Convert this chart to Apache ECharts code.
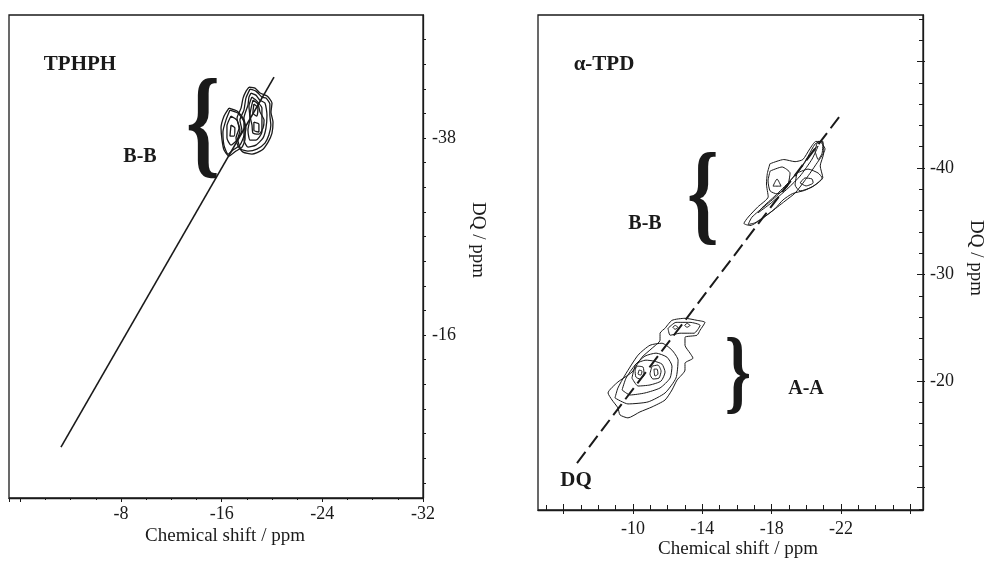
<!DOCTYPE html>
<html>
<head>
<meta charset="utf-8">
<script src="https://cdn.jsdelivr.net/npm/echarts@6/dist/echarts.min.js"></script>
<style>
  html, body { margin: 0; padding: 0; background: #fff; }
  #chart { width: 986px; height: 561px; }
</style>
</head>
<body>
<div id="chart"></div>
<script>
// ---- Axis ticks and labels (ppm) ----
const leftXLabels = [-32, -24, -16, -8];
const leftYTicks = [-49, -46.25, -43.5, -40.75, -38, -35.25, -32.5, -29.75, -27, -24.25, -21.5, -18.75, -16, -13.25, -10.5, -7.75, -5, -2.25, 0.5];
const leftYLabels = [-38, -16];
const rightXMajor = [-26, -22, -18, -14, -10, -6];
const rightXMinor = [-25, -24, -23, -21, -20, -19, -17, -16, -15, -13, -12, -11, -9, -8, -7, -5];
const rightXLabels = [-22, -18, -14, -10];
const rightYMajor = [-50, -40, -30, -20, -10];
const rightYMinor = [-54, -52, -48, -46, -44, -42, -38, -36, -34, -32, -28, -26, -24, -22, -18, -16, -14, -12, -8];
const rightYLabels = [-40, -30, -20];

// ---- DQ diagonals [SQ, DQ] ----
const tphphDiagonal = [[-3.23, -3.49], [-20.16, -44.81]];
const tpdDiagonal = [[-6.77, -12.30], [-21.89, -44.79]];

// ---- TPHPH B-B contours [SQ, DQ] ----
const tphphR0 = [[-18.17,-43.70],[-18.65,-43.59],[-19.05,-43.03],[-19.61,-42.69],[-20.0,-41.91],[-19.92,-40.90],[-20.08,-39.79],[-20.0,-38.56],[-19.69,-37.55],[-19.21,-36.66],[-18.41,-36.21],[-17.70,-36.44],[-17.30,-37.11],[-17.14,-38.0],[-17.38,-39.12],[-17.22,-40.23],[-17.54,-41.35],[-17.70,-42.47],[-17.94,-43.25]];
const tphphR1 = [[-18.25,-43.47],[-18.72,-43.25],[-19.20,-42.58],[-19.52,-42.47],[-19.83,-41.80],[-19.83,-40.57],[-19.91,-39.45],[-19.75,-38.34],[-19.44,-37.44],[-18.80,-36.77],[-18.09,-36.55],[-17.53,-36.77],[-17.29,-37.78],[-17.61,-38.89],[-17.45,-40.01],[-17.77,-41.13],[-17.93,-42.47]];
const tphphR2 = [[-18.33,-43.03],[-18.72,-42.80],[-19.04,-42.24],[-19.44,-41.91],[-19.60,-40.57],[-19.52,-39.12],[-19.28,-38.00],[-18.72,-37.22],[-18.09,-36.99],[-17.77,-37.78],[-17.93,-39.12],[-17.77,-40.23],[-18.09,-41.69],[-18.17,-42.58]];
const tphphR3 = [[-18.40,-42.58],[-18.80,-42.13],[-19.20,-41.35],[-19.20,-40.01],[-19.20,-38.67],[-18.72,-37.78],[-18.25,-37.78],[-18.09,-38.89],[-18.25,-40.23],[-18.17,-41.57]];
const tphphR4 = [[-18.56,-41.80],[-18.88,-41.35],[-18.80,-40.46],[-18.48,-40.79]];
const tphphR5 = [[-18.56,-39.79],[-18.96,-39.56],[-18.96,-38.67],[-18.56,-38.89]];
const tphphR6 = [[-18.49,-42.24],[-18.89,-41.80],[-19.05,-40.90],[-19.37,-40.01],[-19.29,-39.12],[-18.97,-38.45],[-18.49,-38.56],[-18.41,-39.45],[-18.25,-40.57]];
const tphphL0 = [[-16.58,-41.35],[-17.22,-41.02],[-17.70,-40.23],[-17.86,-39.12],[-17.86,-37.89],[-17.62,-36.99],[-17.14,-36.55],[-16.58,-35.99],[-16.19,-36.66],[-16.03,-37.78],[-15.95,-39.12],[-16.19,-40.46]];
const tphphL1 = [[-16.66,-41.13],[-17.29,-40.79],[-17.77,-39.79],[-17.77,-38.34],[-17.45,-37.22],[-16.90,-36.66],[-16.50,-36.21],[-16.18,-37.22],[-16.10,-38.67],[-16.34,-40.01]];
const tphphL2 = [[-16.74,-40.46],[-17.21,-40.01],[-17.45,-38.89],[-17.21,-37.78],[-16.74,-37.22],[-16.42,-38.00],[-16.42,-39.34]];
const tphphL3 = [[-16.74,-39.45],[-17.05,-39.12],[-16.98,-38.22],[-16.66,-38.22]];

// ---- alpha-TPD B-B contours ----
const tpdBB1 = [[-17.9,-40.4],[-18.7,-40.8],[-19.35,-40.6],[-19.8,-40.8],[-20.2,-41.8],[-20.55,-42.5],[-20.95,-42.4],[-21.0,-41.4],[-20.8,-40.2],[-20.95,-39.1],[-20.5,-38.4],[-19.9,-37.9],[-19.2,-37.6],[-18.65,-37.0],[-18.2,-36.2],[-17.5,-35.3],[-16.75,-34.6],[-16.4,-34.8],[-16.65,-35.4],[-17.2,-36.35],[-17.8,-37.3],[-17.7,-38.5],[-17.75,-39.5]];
const tpdBB2 = [[-20.8,-42.5],[-21.08,-41.8],[-20.5,-40.2],[-19.9,-38.8],[-19.35,-37.65],[-18.77,-36.9],[-17.9,-35.8],[-17.04,-34.86],[-16.64,-34.7],[-16.87,-35.4],[-17.62,-36.45],[-18.48,-37.66],[-19.06,-38.8],[-19.64,-39.9],[-20.1,-41.1],[-20.5,-42.25]];
const tpdBB3 = [[-19.46,-39.53],[-20.1,-39.9],[-20.68,-39.53],[-20.91,-39.07],[-20.33,-38.22],[-19.64,-37.85],[-19.35,-38.41]];
const tpdBB4 = [[-17.91,-39.72],[-18.6,-40.1],[-19.06,-39.53],[-18.89,-38.22],[-18.31,-37.57],[-17.91,-37.85],[-17.79,-38.79]];
const tpdBB5 = [[-18.08,-38.3],[-18.54,-38.3],[-18.31,-38.97]];
const tpdBB6 = [[-19.64,-38.6],[-19.92,-39.07],[-20.33,-38.97],[-20.39,-38.6],[-19.98,-38.32]];
const tpdBB7 = [[-20.5,-41.6],[-20.68,-42.5],[-20.96,-42.5],[-20.91,-41.4],[-20.68,-40.8]];
const tpdBB8 = [[-20.68,-42.06],[-20.33,-40.84],[-19.64,-39.25],[-18.94,-38.1],[-17.91,-36.64],[-17.21,-35.79],[-17.44,-36.26],[-18.19,-37.38],[-19.06,-38.79],[-19.81,-40.28],[-20.44,-41.78]];

// ---- alpha-TPD A-A contours ----
const tpdAA1 = [[-11.85,-24.95],[-12.25,-25.70],[-13.00,-25.89],[-13.69,-25.70],[-14.15,-25.51],[-13.87,-24.77],[-13.69,-24.30],[-13.00,-24.11],[-13.00,-23.36],[-13.29,-22.62],[-13.46,-22.15],[-13.00,-21.68],[-13.00,-21.03],[-12.54,-20.09],[-12.25,-19.16],[-11.85,-18.22],[-11.10,-17.57],[-10.40,-17.10],[-9.71,-16.54],[-9.25,-16.82],[-9.13,-17.48],[-8.79,-18.22],[-8.56,-18.88],[-9.13,-19.91],[-9.94,-20.84],[-10.52,-22.24],[-11.10,-23.08],[-11.56,-23.83],[-11.56,-24.49]];
const tpdAA2 = [[-8.96,-18.41],[-9.13,-19.35],[-9.54,-20.56],[-10.29,-22.43],[-10.98,-23.36],[-11.67,-23.55],[-12.25,-22.90],[-12.60,-21.96],[-12.48,-20.28],[-11.85,-18.88],[-10.87,-18.04],[-9.71,-17.85]];
const tpdAA3 = [[-9.37,-19.16],[-9.60,-20.28],[-10.12,-21.50],[-10.69,-22.34],[-11.33,-22.62],[-11.96,-22.24],[-12.25,-21.40],[-12.14,-20.28],[-11.56,-19.35],[-10.69,-18.88],[-9.83,-18.69]];
const tpdAA4 = [[-9.94,-20.28],[-10.17,-21.59],[-10.75,-21.96],[-11.21,-21.87],[-11.67,-21.59],[-11.85,-20.84],[-11.62,-20.0],[-10.98,-19.63],[-10.29,-19.53]];
const tpdAA5 = [[-10.23,-21.40],[-10.58,-21.31],[-10.64,-20.56],[-10.40,-20.19],[-10.17,-20.37],[-10.12,-21.03]];
const tpdAA6 = [[-11.10,-21.40],[-11.44,-21.50],[-11.62,-20.93],[-11.50,-20.28],[-11.15,-20.19],[-10.98,-20.65]];
const tpdAA7 = [[-10.35,-21.03],[-10.52,-20.93],[-10.46,-20.56],[-10.29,-20.65]];
const tpdAA8 = [[-11.21,-21.12],[-11.39,-21.12],[-11.44,-20.65],[-11.27,-20.47]];
const tpdAA9 = [[-12.02,-24.95],[-12.48,-25.51],[-13.29,-25.51],[-13.87,-25.23],[-13.52,-24.49],[-12.71,-24.49],[-12.14,-24.30]];
const tpdAA10 = [[-12.43,-25.23],[-12.6,-25.05],[-12.43,-24.86],[-12.3,-25.05]];
const tpdAA11 = [[-13.12,-25.42],[-13.29,-25.23],[-13.12,-25.05],[-12.98,-25.23]];

const tphphContours = [tphphR0, tphphR1, tphphR2, tphphR3, tphphR4, tphphR5, tphphR6, tphphL0, tphphL1, tphphL2, tphphL3];
const tpdContours = [tpdBB1, tpdBB2, tpdBB3, tpdBB4, tpdBB5, tpdBB6, tpdBB7, tpdBB8,
  tpdAA1, tpdAA2, tpdAA3, tpdAA4, tpdAA5, tpdAA6, tpdAA7, tpdAA8, tpdAA9, tpdAA10, tpdAA11];

const SERIF = '"Liberation Serif", "Times New Roman", serif';
const INK = '#1a1a1a';

function ring(pts) { return pts.concat([pts[0]]); }

function contourSeries(pts, xi, yi, w) {
  return {
    type: 'line', xAxisIndex: xi, yAxisIndex: yi, data: ring(pts),
    symbol: 'none', smooth: 0.2, silent: true,
    lineStyle: { color: INK, width: w }
  };
}

const labelStyle = { color: INK, fontFamily: SERIF, fontSize: 18 };

function hiddenAxis(extra) {
  return Object.assign({
    type: 'value', axisLine: { show: false, onZero: false },
    axisLabel: { show: false }, splitLine: { show: false }
  }, extra);
}

function label(text, x, y, size, bold, extra) {
  return Object.assign({
    type: 'text', x: x, y: y,
    style: { text: text, font: (bold ? 'bold ' : '') + size + 'px ' + SERIF, fill: INK, textAlign: 'center', textVerticalAlign: 'middle' }
  }, extra || {});
}

const option = {
  animation: false,
  backgroundColor: '#fff',
  grid: [
    { left: 9, top: 15, width: 414, height: 483, show: true, borderColor: INK, borderWidth: 1.3, backgroundColor: 'transparent' },
    { left: 538, top: 15, width: 385, height: 495, show: true, borderColor: INK, borderWidth: 1.3, backgroundColor: 'transparent' }
  ],
  xAxis: [
    {
      gridIndex: 0, type: 'value', min: -32, max: 0.9, interval: 8, inverse: true, position: 'bottom',
      axisLine: { show: true, onZero: false, lineStyle: { color: INK, width: 1.3 } },
      axisTick: { show: true, inside: false, length: 4, lineStyle: { color: INK } },
      minorTick: { show: true, splitNumber: 4, length: 2, lineStyle: { color: INK } },
      axisLabel: { customValues: leftXLabels, margin: 7, ...labelStyle },
      splitLine: { show: false }, minorSplitLine: { show: false }
    },
    {
      gridIndex: 1, type: 'value', min: -26.73, max: -4.52, inverse: true, position: 'bottom',
      axisLine: { show: true, onZero: false, lineStyle: { color: INK, width: 1.3 } },
      axisTick: { show: true, inside: true, length: 6, customValues: rightXMajor, lineStyle: { color: INK } },
      axisLabel: { customValues: rightXLabels, margin: 10, ...labelStyle },
      splitLine: { show: false }
    },
    hiddenAxis({ gridIndex: 1, min: -26.73, max: -4.52, inverse: true, position: 'bottom',
      axisTick: { show: true, inside: false, length: 4, customValues: rightXMajor, lineStyle: { color: INK } } }),
    hiddenAxis({ gridIndex: 1, min: -26.73, max: -4.52, inverse: true, position: 'bottom',
      axisTick: { show: true, inside: true, length: 5, customValues: rightXMinor, lineStyle: { color: INK } } })
  ],
  yAxis: [
    {
      gridIndex: 0, type: 'value', min: -51.75, max: 2.2, inverse: true, position: 'right',
      axisLine: { show: true, onZero: false, lineStyle: { color: INK, width: 1.3 } },
      axisTick: { show: true, inside: false, length: 3, customValues: leftYTicks, lineStyle: { color: INK } },
      axisLabel: { customValues: leftYLabels, margin: 9, ...labelStyle },
      splitLine: { show: false }
    },
    {
      gridIndex: 1, type: 'value', min: -54.37, max: -7.89, inverse: true, position: 'right',
      axisLine: { show: true, onZero: false, lineStyle: { color: INK, width: 1.3 } },
      axisTick: { show: true, inside: true, length: 6, customValues: rightYMajor, lineStyle: { color: INK } },
      axisLabel: { customValues: rightYLabels, margin: 7, ...labelStyle },
      splitLine: { show: false }
    },
    hiddenAxis({ gridIndex: 1, min: -54.37, max: -7.89, inverse: true, position: 'right',
      axisTick: { show: true, inside: false, length: 2, customValues: rightYMajor, lineStyle: { color: INK } } }),
    hiddenAxis({ gridIndex: 1, min: -54.37, max: -7.89, inverse: true, position: 'right',
      axisTick: { show: true, inside: true, length: 4, customValues: rightYMinor, lineStyle: { color: INK } } })
  ],
  series: [
    {
      type: 'line', xAxisIndex: 0, yAxisIndex: 0, data: tphphDiagonal, symbol: 'none', silent: true,
      lineStyle: { color: INK, width: 1.6 }
    },
    {
      type: 'line', xAxisIndex: 1, yAxisIndex: 1, data: tpdDiagonal, symbol: 'none', silent: true,
      lineStyle: { color: INK, width: 2, type: [14, 6] }
    }
  ]
    .concat(tphphContours.map(c => contourSeries(c, 0, 0, 1.3)))
    .concat(tpdContours.map(c => contourSeries(c, 1, 1, 1.0))),
  graphic: [
    label('TPHPH', 80, 65, 21, true),
    label('B-B', 140, 157, 20, true),
    label('α-TPD', 604, 65, 21, true),
    label('B-B', 645, 224, 20, true),
    label('A-A', 806, 389, 20, true),
    label('DQ', 576, 481, 21, true),
    // braces
    label('{', 203, 131, 120, true, { scaleX: 0.72 }),
    label('{', 703, 201, 112, true, { scaleX: 0.72 }),
    label('}', 738, 378, 93, true, { scaleX: 0.72 }),
    // axis titles
    label('Chemical shift / ppm', 225, 536, 19, false),
    label('Chemical shift / ppm', 738, 549, 19, false),
    label('DQ / ppm', 478, 240, 19, false, { rotation: -Math.PI / 2 }),
    label('DQ / ppm', 976, 258, 19, false, { rotation: -Math.PI / 2 })
  ]
};

const chart = echarts.init(document.getElementById('chart'), null, { renderer: 'canvas' });
chart.setOption(option);
</script>
</body>
</html>
